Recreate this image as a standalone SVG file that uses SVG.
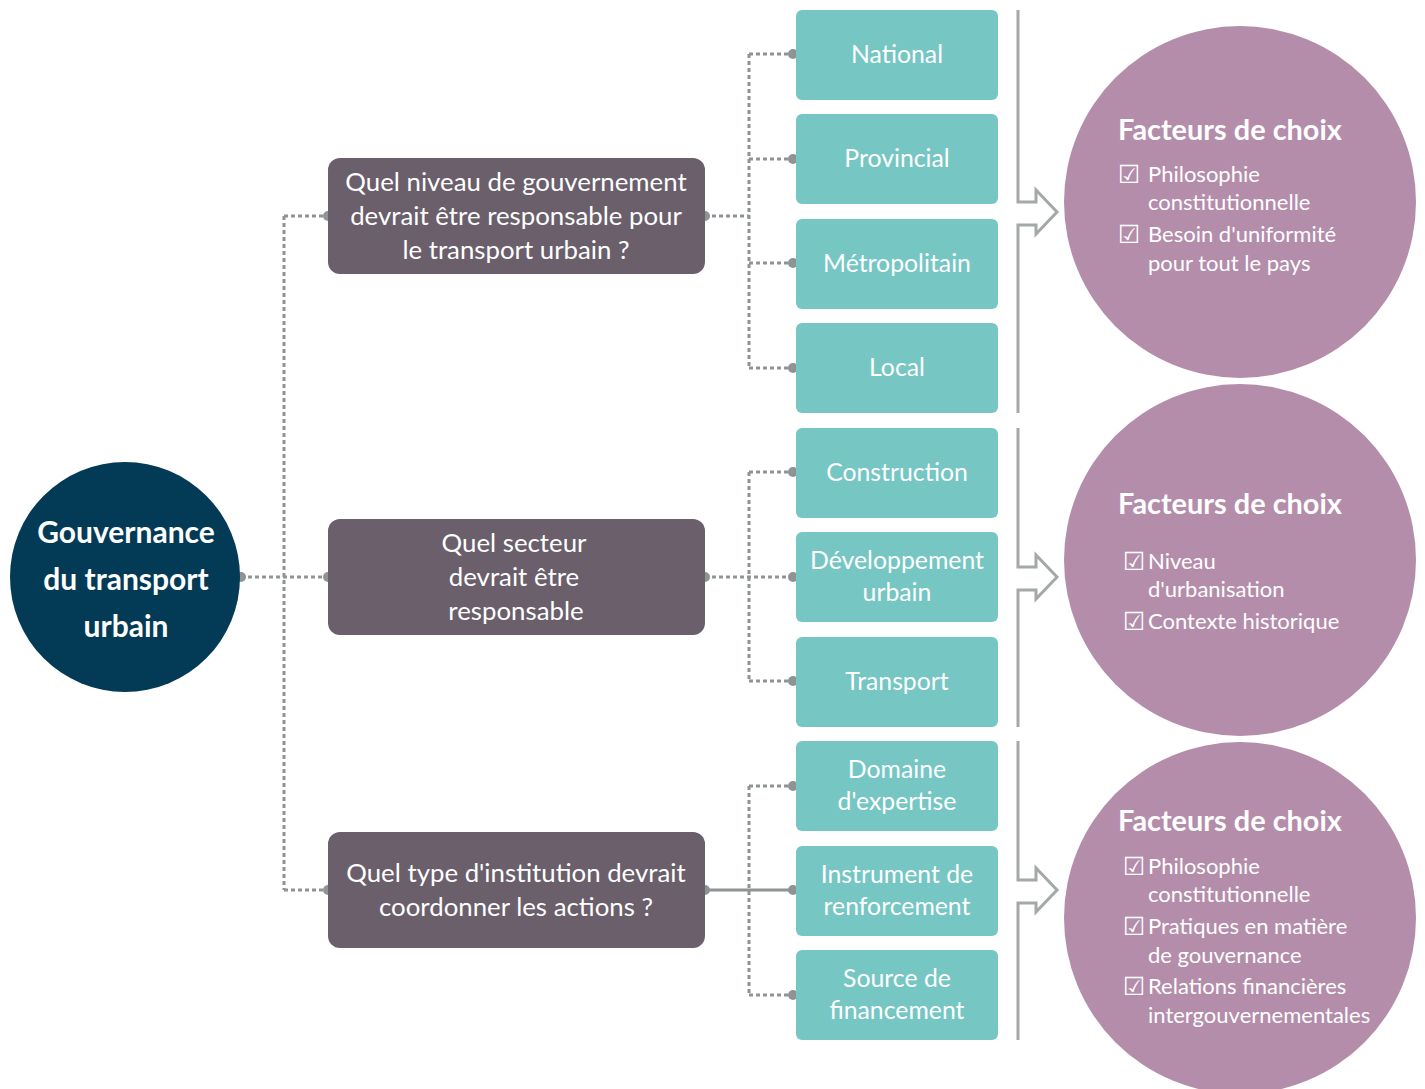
<svg xmlns="http://www.w3.org/2000/svg" width="1425" height="1089" viewBox="0 0 1425 1089">
<style>
.t{font-family:Lato,"Open Sans","Liberation Sans",sans-serif;fill:#fff}
.q{font-size:25.8px;text-anchor:middle}
.tl{font-size:24.8px;text-anchor:middle}
.fc{font-size:28.9px;font-weight:bold}
.it{font-size:22px}
.ck{font-family:"DejaVu Sans",sans-serif;font-size:25px;fill:#fff}
.dk{fill:#6a5f6b}
.tb{fill:#76c6c4}
.pc{fill:#b48dab}
.dot{fill:#8e9393}
.dl{fill:none;stroke:#8e9393;stroke-width:3;stroke-dasharray:4 3}
.sl{fill:none;stroke:#8e9393;stroke-width:3}
.ar{fill:none;stroke:#a4a8a8;stroke-width:3}
</style>
<rect width="1425" height="1089" fill="#fff"/>
<g id="connectors">
<path class="dl" d="M241 577H328M284 216V890M284 216H328M284 890H328"/>
<path class="dl" d="M705 216H749M749 54V368M749 54H793M749 159H793M749 263H793M749 368H793"/>
<path class="dl" d="M705 577H793M749 472V681M749 472H793M749 681H793"/>
<path class="sl" d="M705 890H793"/>
<path class="dl" d="M749 786V995M749 786H793M749 995H793"/>
<g class="dot">
<circle cx="241" cy="577" r="5"/>
<circle cx="328" cy="216" r="5"/><circle cx="328" cy="577" r="5"/><circle cx="328" cy="890" r="5"/>
<circle cx="705" cy="216" r="5"/><circle cx="705" cy="577" r="5"/><circle cx="705" cy="890" r="5"/>
<circle cx="793" cy="54" r="5"/><circle cx="793" cy="159" r="5"/><circle cx="793" cy="263" r="5"/><circle cx="793" cy="368" r="5"/>
<circle cx="793" cy="472" r="5"/><circle cx="793" cy="577" r="5"/><circle cx="793" cy="681" r="5"/>
<circle cx="793" cy="786" r="5"/><circle cx="793" cy="890" r="5"/><circle cx="793" cy="995" r="5"/>
</g>
<path class="ar" d="M1018 10V202H1036V190L1057 212L1036 234V225H1018V413"/>
<path class="ar" d="M1018 428V567H1036V555L1057 577L1036 599V590H1018V727"/>
<path class="ar" d="M1018 741V880H1036V868L1057 890L1036 912V903H1018V1040"/>
</g>
<g id="root">
<circle cx="125" cy="577" r="115" fill="#033a56"/>
<text class="t" font-size="30" font-weight="bold" text-anchor="middle"><tspan x="126" y="543">Gouvernance</tspan><tspan x="126" y="590">du transport</tspan><tspan x="126" y="637">urbain</tspan></text>
</g>
<g id="q1"><rect class="dk" x="328" y="158" width="377" height="116" rx="12"/>
<text class="t q"><tspan x="516" y="191">Quel niveau de gouvernement</tspan><tspan x="516" y="225">devrait être responsable pour</tspan><tspan x="516" y="259">le transport urbain ?</tspan></text></g>
<g id="q2"><rect class="dk" x="328" y="519" width="377" height="116" rx="12"/>
<text class="t q"><tspan x="514" y="552">Quel secteur</tspan><tspan x="514" y="586">devrait être</tspan><tspan x="516" y="620">responsable</tspan></text></g>
<g id="q3"><rect class="dk" x="328" y="832" width="377" height="116" rx="12"/>
<text class="t q"><tspan x="516" y="882">Quel type d'institution devrait</tspan><tspan x="516" y="916">coordonner les actions ?</tspan></text></g>
<g id="n1"><rect class="tb" x="796" y="10" width="202" height="90" rx="6"/><text class="t tl" x="897" y="63">National</text></g>
<g id="n2"><rect class="tb" x="796" y="114" width="202" height="90" rx="6"/><text class="t tl" x="897" y="167">Provincial</text></g>
<g id="n3"><rect class="tb" x="796" y="219" width="202" height="90" rx="6"/><text class="t tl" x="897" y="272">Métropolitain</text></g>
<g id="n4"><rect class="tb" x="796" y="323" width="202" height="90" rx="6"/><text class="t tl" x="897" y="376">Local</text></g>
<g id="n5"><rect class="tb" x="796" y="428" width="202" height="90" rx="6"/><text class="t tl" x="897" y="481">Construction</text></g>
<g id="n6"><rect class="tb" x="796" y="532" width="202" height="90" rx="6"/><text class="t tl"><tspan x="897" y="569">Développement</tspan><tspan x="897" y="601">urbain</tspan></text></g>
<g id="n7"><rect class="tb" x="796" y="637" width="202" height="90" rx="6"/><text class="t tl" x="897" y="690">Transport</text></g>
<g id="n8"><rect class="tb" x="796" y="741" width="202" height="90" rx="6"/><text class="t tl"><tspan x="897" y="778">Domaine</tspan><tspan x="897" y="810">d'expertise</tspan></text></g>
<g id="n9"><rect class="tb" x="796" y="846" width="202" height="90" rx="6"/><text class="t tl"><tspan x="897" y="883">Instrument de</tspan><tspan x="897" y="915">renforcement</tspan></text></g>
<g id="n10"><rect class="tb" x="796" y="950" width="202" height="90" rx="6"/><text class="t tl"><tspan x="897" y="987">Source de</tspan><tspan x="897" y="1019">financement</tspan></text></g>
<g id="f1"><circle class="pc" cx="1240" cy="202" r="176"/>
<text class="t fc" x="1118" y="140">Facteurs de choix</text>
<text class="ck" x="1118" y="183">☑</text><text class="ck" x="1118" y="243">☑</text>
<text class="t it"><tspan x="1148" y="182">Philosophie</tspan><tspan x="1148" y="210">constitutionnelle</tspan><tspan x="1148" y="242">Besoin d'uniformité</tspan><tspan x="1148" y="271">pour tout le pays</tspan></text></g>
<g id="f2"><circle class="pc" cx="1240" cy="560" r="176"/>
<text class="t fc" x="1118" y="514">Facteurs de choix</text>
<text class="ck" x="1123" y="570">☑</text><text class="ck" x="1123" y="630">☑</text>
<text class="t it"><tspan x="1148" y="569">Niveau</tspan><tspan x="1148" y="597">d'urbanisation</tspan><tspan x="1148" y="629">Contexte historique</tspan></text></g>
<g id="f3"><circle class="pc" cx="1240" cy="918" r="176"/>
<text class="t fc" x="1118" y="831">Facteurs de choix</text>
<text class="ck" x="1123" y="875">☑</text><text class="ck" x="1123" y="935">☑</text><text class="ck" x="1123" y="995">☑</text>
<text class="t it"><tspan x="1148" y="874">Philosophie</tspan><tspan x="1148" y="902">constitutionnelle</tspan><tspan x="1148" y="934">Pratiques en matière</tspan><tspan x="1148" y="963">de gouvernance</tspan><tspan x="1148" y="994">Relations financières</tspan><tspan x="1148" y="1023">intergouvernementales</tspan></text></g>
</svg>
